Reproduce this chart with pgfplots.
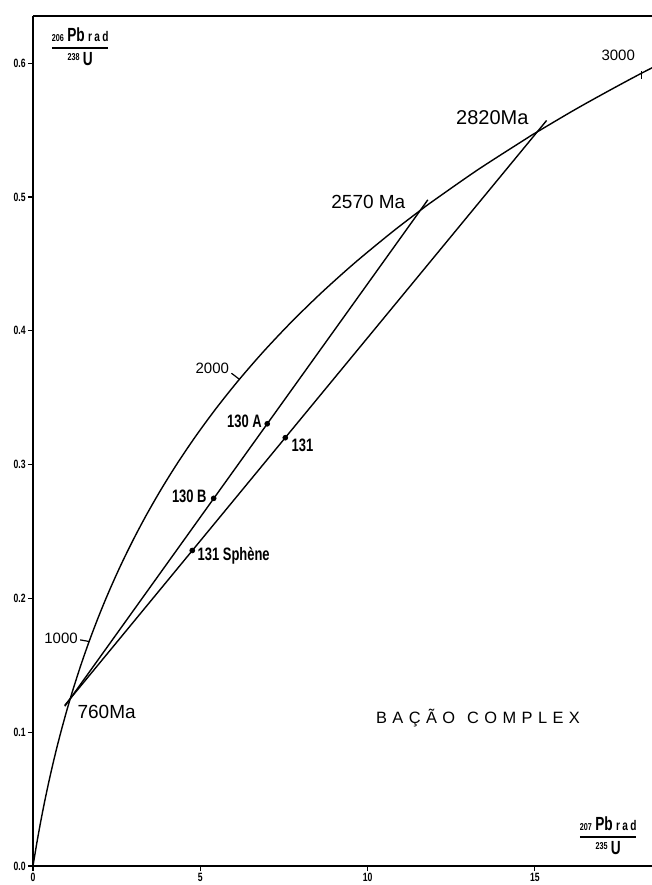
\documentclass[border=0pt]{standalone}
\usepackage{fontspec}
\setmainfont{Liberation Sans}
\newfontfamily\cond[FakeStretch=0.72]{Liberation Sans}
\usepackage{pgfplots}
\pgfplotsset{compat=1.18}
\begin{document}
\begin{tikzpicture}
\begin{axis}[
  name=ax,
  scale only axis, width=309.5pt, height=425pt,
  xmin=0, xmax=18.5, ymin=0, ymax=0.6353,
  axis x line=bottom, axis y line=left,
  axis line style={-, line width=0.9pt},
  xtick={0,5,10,15}, xticklabels={0,5,10,15},
  ytick={0,0.1,0.2,0.3,0.4,0.5,0.6},
  yticklabels={0.0,0.1,0.2,0.3,0.4,0.5,0.6},
  tick align=outside, major tick length=2.5pt,
  tick style={line width=0.6pt, black},
  ticklabel style={font=\cond\bfseries\fontsize{6}{6}\selectfont, inner sep=1pt},
  clip=true,
]
% concordia
\addplot[black, line width=0.7pt, smooth] coordinates {
(0,0) (0.1035,0.01563) (0.2177,0.03151) (0.3437,0.04764) (0.4828,0.06402)
(0.6363,0.08065) (0.8056,0.09755) (0.9925,0.11471) (1.1140,0.12510)
(1.1987,0.13213) (1.4263,0.14983) (1.6774,0.16780) (1.9545,0.18606)
(2.2603,0.20460) (2.5978,0.22344) (2.9701,0.24256) (3.3810,0.26199)
(3.8344,0.28172) (4.3348,0.30175) (4.8869,0.32210) (5.4962,0.34277)
(6.1685,0.36377) (6.9104,0.38509) (7.7292,0.40674) (8.6326,0.42873)
(9.6296,0.45107) (10.7297,0.47375) (11.5669,0.48985) (11.9437,0.49680)
(13.2834,0.52019) (14.7617,0.54396) (15.0752,0.54876) (16.3930,0.56811)
(18.1931,0.59262) (20.1796,0.61752)};
% discordia lines
\addplot[black, line width=0.7pt] coordinates {(0.95,0.1194) (11.8,0.4979)};
\addplot[black, line width=0.7pt] coordinates {(0.95,0.1201) (15.35,0.5572)};
% concordia age ticks
\addplot[black, line width=0.6pt] coordinates {(1.41,0.1690) (1.6774,0.1678)};
\addplot[black, line width=0.6pt] coordinates {(5.93,0.3683) (6.1685,0.3638)};
\addplot[black, line width=0.6pt] coordinates {(18.19,0.5940) (18.19,0.5885)};
% analyses
\addplot[only marks, mark=*, mark size=1.2pt, black] coordinates {
(7.0,0.3305) (5.4,0.2748) (7.54,0.3201) (4.76,0.2358)};

\node[anchor=east, font=\fontsize{7.5}{8}\selectfont, inner sep=1pt] at (axis cs:1.41,0.1700) {1000};
\node[anchor=south east, font=\fontsize{7.5}{8}\selectfont, inner sep=1pt] at (axis cs:5.93,0.3660) {2000};
\node[font=\fontsize{7.5}{8}\selectfont] at (axis cs:17.49,0.6061) {3000};
\node[anchor=west, font=\fontsize{9.5}{10}\selectfont, inner sep=0pt] at (axis cs:1.32,0.1151) {760Ma};
\node[anchor=east, font=\fontsize{9.5}{10}\selectfont, inner sep=0pt] at (axis cs:11.14,0.4963) {2570 Ma};
\node[anchor=east, font=\fontsize{10}{10}\selectfont, inner sep=0pt] at (axis cs:14.82,0.5590) {2820Ma};
\node[anchor=east, font=\cond\bfseries\fontsize{9}{9}\selectfont, inner sep=0pt] at (axis cs:6.85,0.3325) {130 A};
\node[anchor=west, font=\cond\bfseries\fontsize{9}{9}\selectfont, inner sep=0pt] at (axis cs:7.72,0.3146) {131};
\node[anchor=east, font=\cond\bfseries\fontsize{9}{9}\selectfont, inner sep=0pt] at (axis cs:5.2,0.2765) {130 B};
\node[anchor=west, font=\cond\bfseries\fontsize{9}{9}\selectfont, inner sep=0pt] at (axis cs:4.91,0.2317) {131 Sph\`ene};
\node[font=\fontsize{8.2}{8}\selectfont\addfontfeatures{LetterSpace=33}, inner sep=0pt] at (axis cs:13.3,0.1106) {BAÇÃO\hspace{6pt}COMPLEX};

% axis ratio labels
\node[inner sep=0pt, font=\cond\bfseries] at (axis cs:1.41,0.6106) {\setlength{\arrayrulewidth}{0.9pt}\begin{tabular}{@{}c@{}}
{\fontsize{5}{5}\selectfont 206}\,{\fontsize{9.5}{9}\selectfont Pb}\,{\fontsize{7}{6}\selectfont r\,a\,d}\\[-1pt]\hline
\rule{0pt}{8pt}\raisebox{2.5pt}{\fontsize{5}{5}\selectfont 238}\,{\fontsize{9.5}{9}\selectfont U}
\end{tabular}};
\node[inner sep=0pt, font=\cond\bfseries] at (axis cs:17.19,0.0209) {\setlength{\arrayrulewidth}{0.9pt}\begin{tabular}{@{}c@{}}
{\fontsize{5}{5}\selectfont 207}\,{\fontsize{9.5}{9}\selectfont Pb}\,{\fontsize{7}{6}\selectfont r\,a\,d}\\[-1pt]\hline
\rule{0pt}{8pt}\raisebox{2.5pt}{\fontsize{5}{5}\selectfont 235}\,{\fontsize{9.5}{9}\selectfont U}
\end{tabular}};
\end{axis}
\draw[line width=0.9pt] (ax.north west) -- (ax.north east);
\pgfresetboundingbox
\path (ax.south west) ++(-16.5pt,-9.5pt) coordinate (bl);
\path (ax.north east) ++(0pt,8pt) coordinate (tr);
\path[use as bounding box] (bl) rectangle (tr);
\end{tikzpicture}
\end{document}
